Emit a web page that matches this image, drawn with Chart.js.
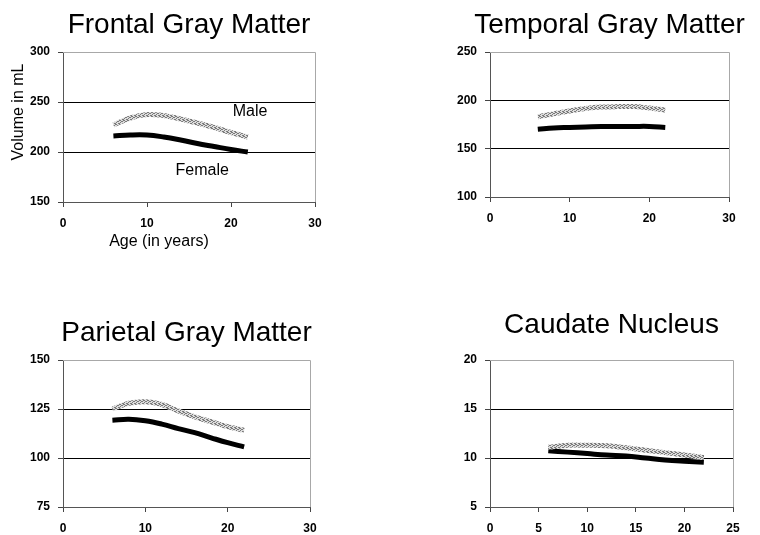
<!DOCTYPE html>
<html>
<head>
<meta charset="utf-8">
<script src="https://cdn.jsdelivr.net/npm/chart.js@4.4.1/dist/chart.umd.min.js"></script>
<style>
  html, body { margin: 0; padding: 0; background: #fff; overflow: hidden; }
  body { width: 760px; height: 535px; position: relative; }
  .pane { position: absolute; }
</style>
</head>
<body>
<div class="pane" style="left:0;top:0;width:380px;height:268px"><canvas id="c1"></canvas></div>
<div class="pane" style="left:380px;top:0;width:380px;height:268px"><canvas id="c2"></canvas></div>
<div class="pane" style="left:0;top:268px;width:380px;height:267px"><canvas id="c3"></canvas></div>
<div class="pane" style="left:380px;top:268px;width:380px;height:267px"><canvas id="c4"></canvas></div>
<script>
// ---- data ----
const ages = [6, 8, 10, 12, 14, 16, 18, 20, 22];

const frontalMale   = [227, 234, 237.5, 236.5, 233, 229, 224.5, 219.5, 215];
const frontalFemale = [216, 217, 217, 215, 212, 208.5, 205.5, 202.5, 200];

const temporalMale   = [183, 186, 189, 191.5, 193, 193.5, 193.5, 192, 190];
const temporalFemale = [170, 171.5, 172, 172.5, 173, 173, 173, 173, 172];

const parietalMale   = [125, 127.9, 128.7, 127.3, 124, 121, 118.5, 116, 114.2];
const parietalFemale = [119.3, 119.8, 119, 117.3, 115, 112.9, 110.3, 107.8, 105.7];

const caudateMale   = [11.1, 11.3, 11.3, 11.25, 11.05, 10.8, 10.55, 10.3, 10.05];
const caudateFemale = [10.75, 10.6, 10.45, 10.3, 10.2, 10.0, 9.8, 9.67, 9.57];

const titles = ["Frontal Gray Matter", "Temporal Gray Matter", "Parietal Gray Matter", "Caudate Nucleus"];
const yTicks = [[150, 300, 50], [100, 250, 50], [75, 150, 25], [5, 20, 5]];   // min, max, step
const xTicks = [[0, 30, 10], [0, 30, 10], [0, 30, 10], [0, 25, 5]];

const FONT = "'Liberation Sans', Arial, Helvetica, sans-serif";

// male line stipple pattern
function malePattern() {
  const p = document.createElement('canvas');
  p.width = 4; p.height = 4;
  const g = p.getContext('2d');
  g.fillStyle = '#dcdcdc'; g.fillRect(0, 0, 4, 4);
  g.fillStyle = '#7a7a7a';
  g.fillRect(0, 0, 1, 1); g.fillRect(2, 1, 1, 1); g.fillRect(0, 2, 1, 1); g.fillRect(2, 3, 1, 1);
  g.fillRect(1, 1, 1, 1); g.fillRect(3, 3, 1, 1); g.fillRect(3, 0, 1, 1);
  return g.createPattern(p, 'repeat');
}

const framePlugin = {
  id: 'frame',
  beforeDatasetsDraw(chart) {
    const a = chart.chartArea, ctx = chart.ctx;
    ctx.save();
    ctx.strokeStyle = '#a8a8a8';
    ctx.lineWidth = 1;
    ctx.beginPath();
    ctx.moveTo(a.left, a.top + 0.5); ctx.lineTo(a.right + 0.5, a.top + 0.5);
    ctx.lineTo(a.right + 0.5, a.bottom);
    ctx.stroke();
    ctx.restore();
  },
  afterDraw(chart, args, opts) {
    const a = chart.chartArea, ctx = chart.ctx;
    ctx.save();
    ctx.fillStyle = '#000';
    ctx.font = '28px ' + FONT;
    ctx.textAlign = 'center';
    ctx.textBaseline = 'alphabetic';
    ctx.fillText(opts.title, (a.left + a.right) / 2, opts.titleY);
    if (opts.extra) {
      const xs = chart.scales.x, ys = chart.scales.y;
      ctx.font = '16px ' + FONT;
      ctx.textAlign = 'left';
      ctx.fillText('Male', xs.getPixelForValue(20.2), ys.getPixelForValue(236));
      ctx.fillText('Female', xs.getPixelForValue(13.4), ys.getPixelForValue(177));
      ctx.fillText('Age (in years)', xs.getPixelForValue(5.5), a.bottom + 44);
      ctx.save();
      ctx.translate(23, (a.top + a.bottom) / 2 - 15);
      ctx.rotate(-Math.PI / 2);
      ctx.textAlign = 'center';
      ctx.fillText('Volume in mL', 0, 0);
      ctx.restore();
    }
    ctx.restore();
  }
};

const pads = [
  { left: 23, right: 65, top: 52, bottom: 38, titleY: 33 },
  { left: 70, right: 31, top: 52, bottom: 43, titleY: 33 },
  { left: 23, right: 70, top: 92, bottom: 0, titleY: 73 },
  { left: 70, right: 27, top: 92, bottom: 0, titleY: 65 }
];

const series = [
  [frontalMale, frontalFemale],
  [temporalMale, temporalFemale],
  [parietalMale, parietalFemale],
  [caudateMale, caudateFemale]
];

function build(id, i) {
  const [ymin, ymax, ystep] = yTicks[i];
  const [xmin, xmax, xstep] = xTicks[i];
  const p = pads[i];
  const pts = arr => arr.map((v, k) => ({ x: ages[k], y: v }));
  new Chart(document.getElementById(id), {
    type: 'line',
    data: {
      datasets: [
        { label: 'Male', data: pts(series[i][0]), borderColor: malePattern(), borderWidth: 5,
          pointRadius: 0, tension: 0.4, fill: false, borderCapStyle: 'butt' },
        { label: 'Female', data: pts(series[i][1]), borderColor: '#000', borderWidth: 5,
          pointRadius: 0, tension: 0.4, fill: false, borderCapStyle: 'butt' }
      ]
    },
    options: {
      responsive: true,
      maintainAspectRatio: false,
      animation: false,
      layout: { padding: { left: p.left, right: p.right, top: p.top, bottom: p.bottom } },
      plugins: {
        legend: { display: false },
        tooltip: { enabled: false },
        title: { display: false },
        frame: { title: titles[i], titleY: p.titleY, extra: i === 0 }
      },
      scales: {
        x: {
          type: 'linear', min: xmin, max: xmax,
          ticks: { stepSize: xstep, color: '#000', padding: 9, maxRotation: 0,
                   font: { family: FONT, size: 12, weight: 'bold' } },
          grid: { drawOnChartArea: false, drawTicks: true, tickLength: 5, tickColor: '#444', color: '#444' },
          border: { display: true, color: '#555', width: 1 },
          afterFit(s) { s.height = 28; s.paddingLeft = 0; s.paddingRight = 0; }
        },
        y: {
          min: ymin, max: ymax,
          ticks: { stepSize: ystep, color: '#000', padding: 8,
                   font: { family: FONT, size: 12, weight: 'bold' } },
          grid: {
            drawTicks: true, tickLength: 5, tickColor: '#444', lineWidth: 1,
            color: ctx => (ctx.tick && (ctx.tick.value === ymin || ctx.tick.value === ymax)) ? 'rgba(0,0,0,0)' : '#000'
          },
          border: { display: true, color: '#555', width: 1 },
          afterFit(s) { s.width = 40; s.paddingTop = 0; s.paddingBottom = 0; }
        }
      }
    },
    plugins: [framePlugin]
  });
}

build('c1', 0);
build('c2', 1);
build('c3', 2);
build('c4', 3);
</script>
</body>
</html>
